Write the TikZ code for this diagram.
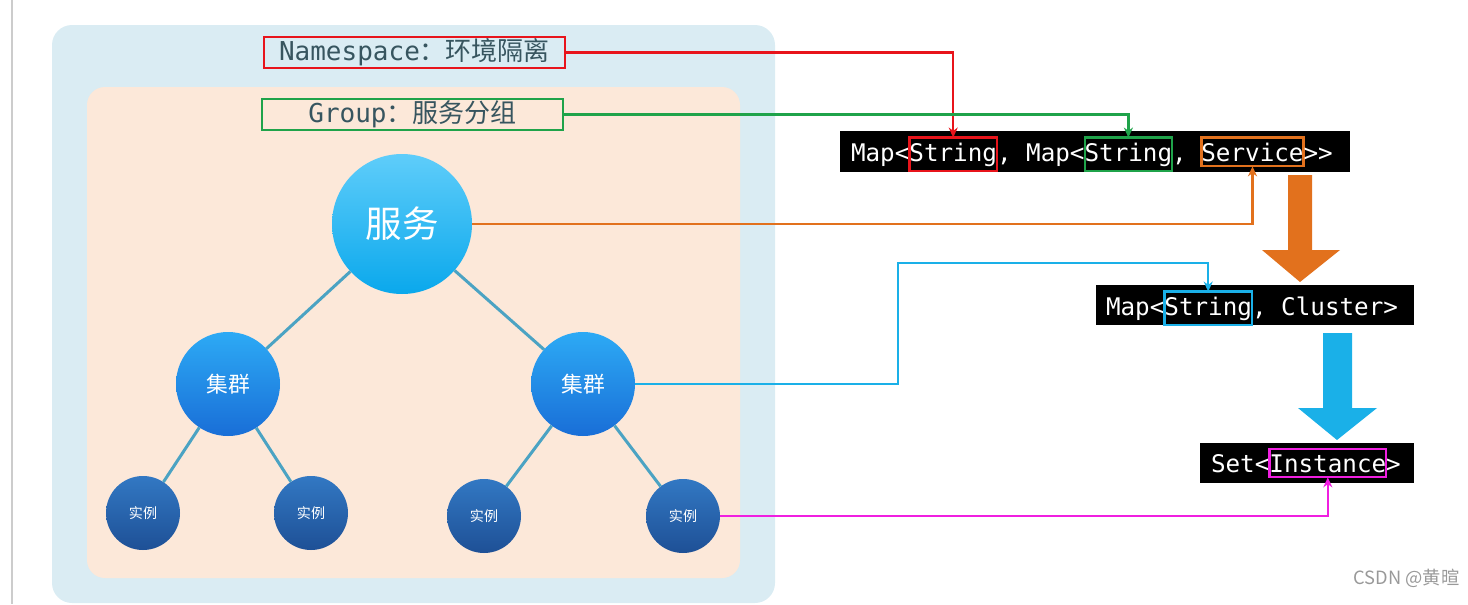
\documentclass[tikz,border=0pt]{standalone}
\usepackage{fontspec}
\setmonofont{DejaVu Sans Mono}
\newfontfamily\cjk{Noto Sans CJK SC}
\usetikzlibrary{arrows.meta,shadings}
\newdimen\px \px=0.05cm
\definecolor{nsred}{RGB}{232,20,27}
\definecolor{grgreen}{RGB}{31,163,74}
\definecolor{svorange}{RGB}{226,113,29}
\definecolor{clcyan}{RGB}{26,176,232}
\definecolor{inmag}{RGB}{240,31,224}
\definecolor{outerbg}{RGB}{218,236,243}
\definecolor{innerbg}{RGB}{252,232,217}
\definecolor{lbltext}{RGB}{55,85,95}
\definecolor{treeline}{RGB}{75,163,195}
\definecolor{svtop}{RGB}{95,205,250}
\definecolor{svbot}{RGB}{10,168,236}
\definecolor{cltop}{RGB}{45,170,245}
\definecolor{clbot}{RGB}{25,110,215}
\definecolor{intop}{RGB}{50,120,195}
\definecolor{inbot}{RGB}{30,80,150}
\tikzset{
  x=0.05cm, y=-0.05cm,
  lbl/.style={draw, line width=2.2\px, text=lbltext, minimum height=31\px, inner sep=0pt,
    font=\ttfamily\fontsize{37}{40}\selectfont},
  codebox/.style={fill=black},
  seg/.style={inner sep=0pt, outer sep=0pt, text=white, anchor=base west,
    font=\ttfamily\fontsize{34.5}{38}\selectfont},
  hl/.style={seg, draw=#1, line width=2.2\px, inner ysep=5\px},
  conn/.style={draw=#1, line width=2.2\px, -{Stealth[length=0.5cm,width=0.45cm]}},
  svc/.style={circle, minimum size=#1, inner sep=0pt, text=white},
  inst/.style={circle, minimum size=74\px, inner sep=0pt, text=white, top color=intop, bottom color=inbot,
    font=\cjk\fontsize{20}{22}\selectfont},
  tree/.style={draw=treeline, line width=3\px},
}
\begin{document}
\begin{tikzpicture}
\useasboundingbox (0,0) rectangle (1468,604);
\draw[gray!40, line width=1.5\px] (12,0) -- (12,604);
\fill[outerbg, rounded corners=20\px] (52,25) rectangle (775,603);
\fill[innerbg, rounded corners=18\px] (87,87) rectangle (740,578);

\node[lbl, draw=nsred, minimum width=301\px] (ns) at (414.5,52.5) {Namespace\cjk{：环境隔离}};
\node[lbl, draw=grgreen, minimum width=301\px] (grp) at (412.5,114.5) {Group\cjk{：服务分组}};

\node[svc=140\px, top color=svtop, bottom color=svbot, font=\cjk\fontsize{52}{56}\selectfont] (s) at (402,224) {服务};
\node[svc=104\px, top color=cltop, bottom color=clbot, font=\cjk\fontsize{31}{34}\selectfont] (c1) at (228,384) {集群};
\node[svc=104\px, top color=cltop, bottom color=clbot, font=\cjk\fontsize{31}{34}\selectfont] (c2) at (583,384) {集群};
\node[inst] (i1) at (143,513) {实例};
\node[inst] (i2) at (311,513) {实例};
\node[inst] (i3) at (484,516) {实例};
\node[inst] (i4) at (683,516) {实例};
\draw[tree] (s) -- (c1); \draw[tree] (s) -- (c2);
\draw[tree] (c1) -- (i1); \draw[tree] (c1) -- (i2);
\draw[tree] (c2) -- (i3); \draw[tree] (c2) -- (i4);

% code boxes
\fill[codebox] (840,131) rectangle (1350,172);
\fill[codebox] (1096,285) rectangle (1414,325);
\fill[codebox] (1200,443) rectangle (1414,483);

\node[seg] (a1) at (851,161) {Map<};
\node[hl=nsred] (k1) at (a1.base east) {String};
\node[seg] (a2) at (k1.base east) {,\ Map<};
\node[hl=grgreen] (k2) at (a2.base east) {String};
\node[seg] (a3) at (k2.base east) {,\mbox{\ }};
\node[hl=svorange] (k3) at (a3.base east) {Service};
\node[seg] (a4) at (k3.base east) {>>};

\node[seg] (b1) at (1106,315) {Map<};
\node[hl=clcyan] (k4) at (b1.base east) {String};
\node[seg] (b2) at (k4.base east) {,\ Cluster>};

\node[seg] (d1) at (1211,472) {Set<};
\node[hl=inmag] (k5) at (d1.base east) {Instance};
\node[seg] (d2) at (k5.base east) {>};

% big arrows
\fill[svorange] (1288,175) -- (1312,175) -- (1312,250) -- (1340,250) -- (1300,282) -- (1262,250) -- (1288,250) -- cycle;
\fill[clcyan] (1323,333) -- (1352,333) -- (1352,408) -- (1377,408) -- (1337,440) -- (1298,408) -- (1323,408) -- cycle;

% connectors
\draw[conn=nsred] (ns.east) -| (k1.north);
\draw[conn=grgreen] (grp.east) -| (k2.north);
\draw[conn=svorange] (s.east) -| (k3.south);
\coordinate (cbend) at (898,263);
\draw[conn=clcyan] (c2.east) -| (cbend) -| (k4.north);
\draw[conn=inmag] (i4.east) -| (k5.south);

\node[anchor=east, text=gray!80, font=\cjk\fontsize{26}{28}\selectfont] (csdn) at (1462,578) {CSDN @黄暄};
\end{tikzpicture}
\end{document}
